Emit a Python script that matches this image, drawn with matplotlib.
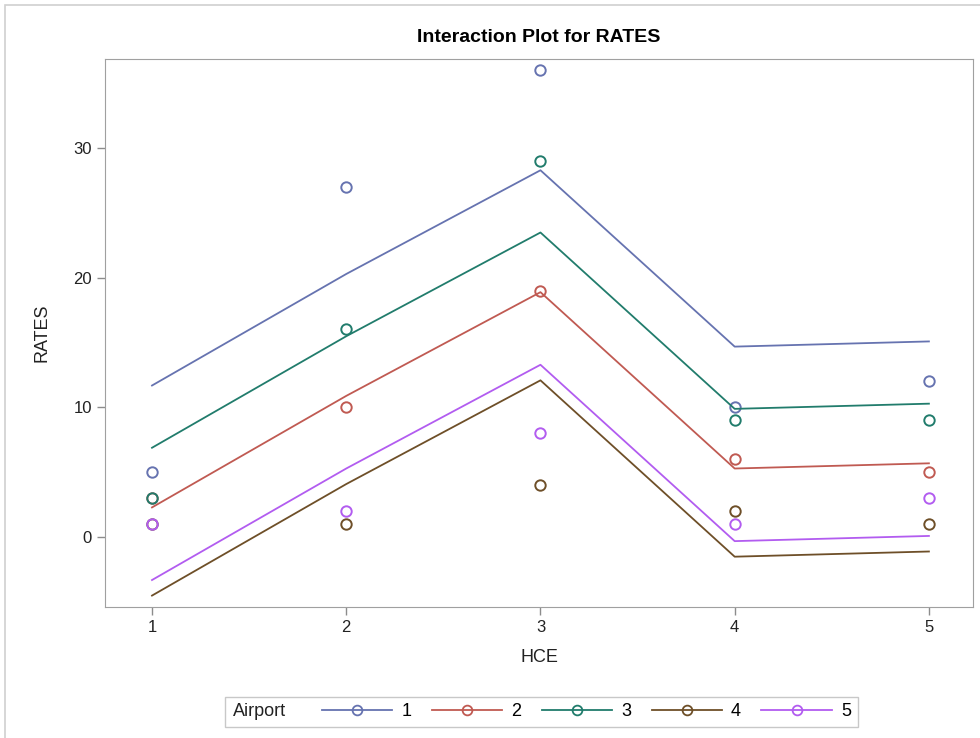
import matplotlib.pyplot as plt
from matplotlib.patches import Rectangle
from matplotlib.lines import Line2D

plt.rcParams['font.family'] = ['Liberation Sans', 'DejaVu Sans']

hce = [1, 2, 3, 4, 5]
airports = ['1', '2', '3', '4', '5']

# observed RATES (circles)
rates_1 = [5, 27, 36, 10, 12]
rates_2 = [3, 10, 19, 6, 5]
rates_3 = [3, 16, 29, 9, 9]
rates_4 = [1, 1, 4, 2, 1]
rates_5 = [1, 2, 8, 1, 3]

# fitted lines
fit_1 = [11.68, 20.28, 28.28, 14.68, 15.08]
fit_2 = [2.28, 10.88, 18.88, 5.28, 5.68]
fit_3 = [6.88, 15.48, 23.48, 9.88, 10.28]
fit_4 = [-4.52, 4.08, 12.08, -1.52, -1.12]
fit_5 = [-3.32, 5.28, 13.28, -0.32, 0.08]

colors = ['#6673b0', '#c05a52', '#217c6c', '#6e4f28', '#b25cf0']

observed = [rates_1, rates_2, rates_3, rates_4, rates_5]
fitted = [fit_1, fit_2, fit_3, fit_4, fit_5]

fig = plt.figure(figsize=(9.8, 7.38), dpi=100)
ax = fig.add_axes([105/980, 1-607/738, (973-105)/980, (607-59)/738])

for obs, fit, c in zip(observed, fitted, colors):
    ax.plot(hce, fit, color=c, lw=1.3)
    ax.plot(hce, obs, 'o', mfc='none', mec=c, ms=7.5, mew=1.4)

ax.set_xlim(0.758, 5.227)
ax.set_ylim(-5.40, 36.86)
ax.set_xticks(hce)
ax.set_yticks([0, 10, 20, 30])
ax.tick_params(labelsize=12, color='#8c8c8c', length=6, width=1, labelcolor='#222222')
for s in ax.spines.values():
    s.set_color('#a0a0a0')
ax.set_xlabel('HCE', fontsize=13, color='#222222', labelpad=10)
ax.set_ylabel('RATES', fontsize=13, color='#222222', labelpad=16)
ax.set_title('Interaction Plot for RATES', fontsize=14, fontweight='bold', pad=12)

# outer border
fig.patches.append(Rectangle((5/980, -0.1), 1.1, 1 - 5/738 + 0.1, transform=fig.transFigure,
                             fill=False, edgecolor='#d0d0d0', lw=1.2))

# legend box
fig.patches.append(Rectangle((225/980, 1-727/738), (858-225)/980, 30/738, transform=fig.transFigure,
                             fill=False, edgecolor='#c8c8c8', lw=1))
fig.text(233/980, 1-712/738, 'Airport', fontsize=13, va='center', ha='left', color='#222222')
handles = [Line2D([], [], color=c, lw=1.3, marker='o', mfc='none', mec=c, ms=7, mew=1.3) for c in colors]
fig.legend(handles, airports, ncol=5, loc='center left', bbox_to_anchor=(322/980, 1-712/738),
           frameon=False, fontsize=13, handlelength=3.9, handletextpad=0.5, columnspacing=1.13,
           borderpad=0, borderaxespad=0, numpoints=1)

fig.savefig('out.png', dpi=100)
